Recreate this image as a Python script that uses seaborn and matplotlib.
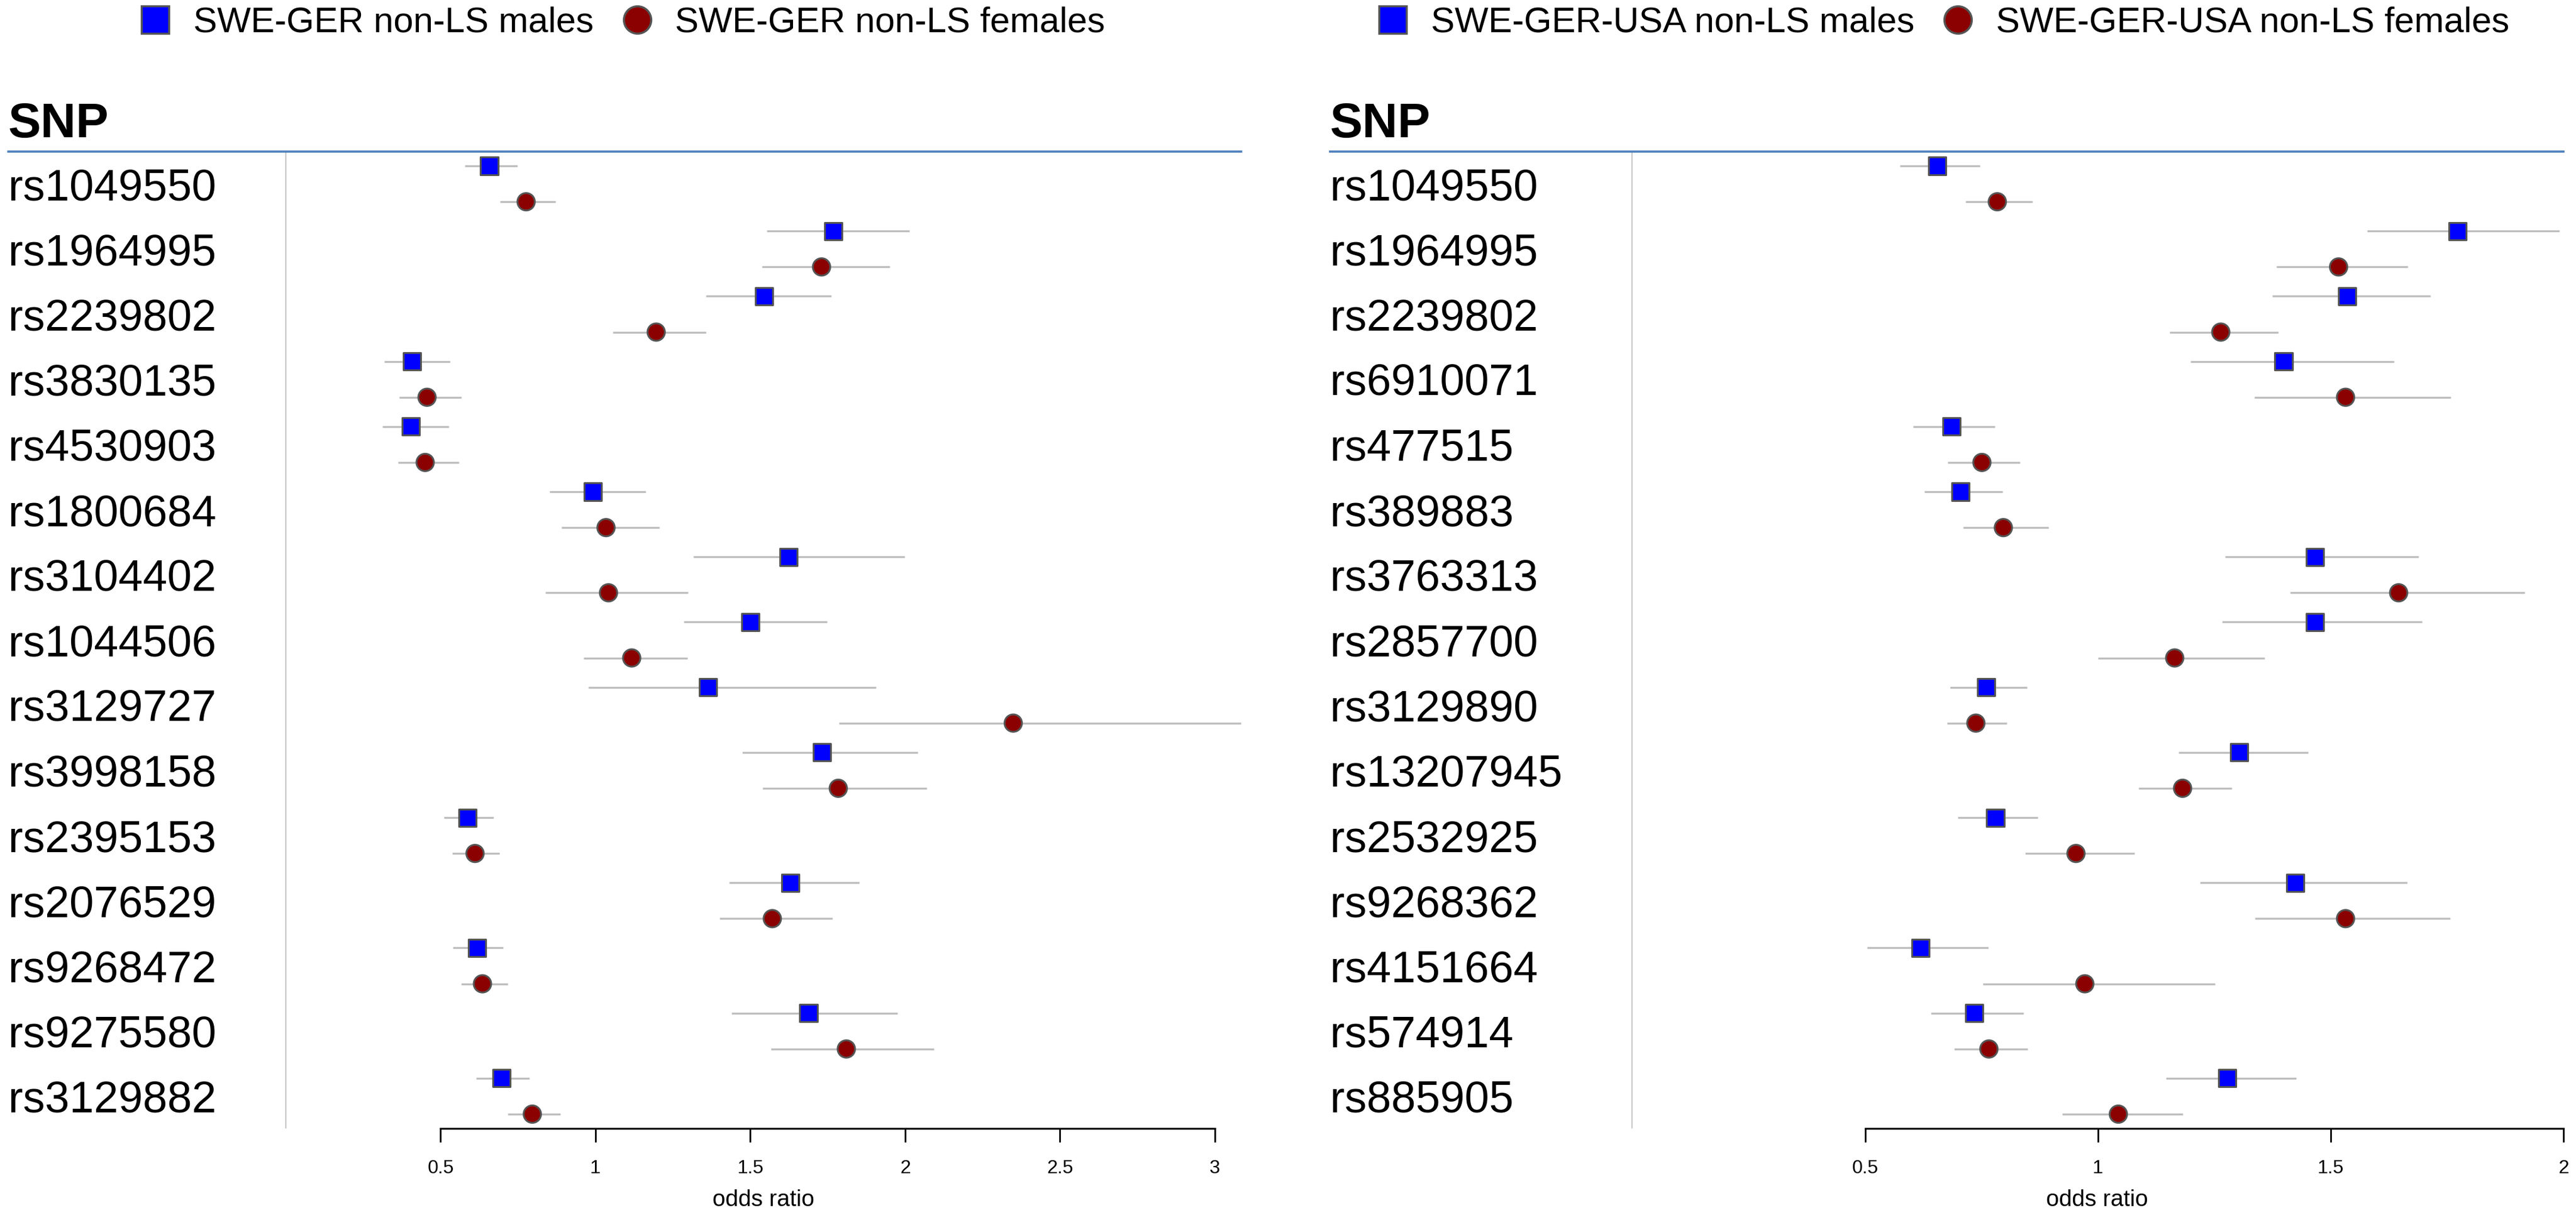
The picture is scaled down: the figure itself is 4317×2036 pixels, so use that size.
import numpy as np
import pandas as pd
import matplotlib
matplotlib.use("Agg")
import matplotlib.pyplot as plt
import seaborn as sns
from matplotlib.lines import Line2D
from matplotlib.transforms import blended_transform_factory

# ---------------- data ----------------
snps_left = ['rs1049550', 'rs1964995', 'rs2239802', 'rs3830135', 'rs4530903',
             'rs1800684', 'rs3104402', 'rs1044506', 'rs3129727', 'rs3998158',
             'rs2395153', 'rs2076529', 'rs9268472', 'rs9275580', 'rs3129882']
left_male_or = [0.657, 1.768, 1.544, 0.407, 0.403, 0.992, 1.623, 1.500, 1.363, 1.732, 0.587, 1.629, 0.617, 1.688, 0.696]
left_male_lo = [0.579, 1.554, 1.357, 0.317, 0.312, 0.851, 1.317, 1.286, 0.976, 1.474, 0.510, 1.431, 0.540, 1.440, 0.615]
left_male_hi = [0.748, 2.014, 1.762, 0.530, 0.526, 1.161, 1.998, 1.748, 1.905, 2.040, 0.671, 1.851, 0.702, 1.976, 0.786]
left_female_or = [0.776, 1.730, 1.196, 0.456, 0.450, 1.034, 1.042, 1.117, 2.349, 1.784, 0.611, 1.571, 0.635, 1.810, 0.796]
left_female_lo = [0.692, 1.538, 1.056, 0.367, 0.363, 0.891, 0.839, 0.962, 1.786, 1.540, 0.538, 1.401, 0.567, 1.567, 0.716]
left_female_hi = [0.871, 1.950, 1.357, 0.567, 0.558, 1.206, 1.298, 1.296, 3.090, 2.069, 0.690, 1.766, 0.716, 2.093, 0.887]

snps_right = ['rs1049550', 'rs1964995', 'rs2239802', 'rs6910071', 'rs477515',
              'rs389883', 'rs3763313', 'rs2857700', 'rs3129890', 'rs13207945',
              'rs2532925', 'rs9268362', 'rs4151664', 'rs574914', 'rs885905']
right_male_or = [0.655, 1.773, 1.535, 1.399, 0.686, 0.705, 1.466, 1.466, 0.760, 1.304, 0.780, 1.424, 0.619, 0.735, 1.278]
right_male_lo = [0.575, 1.579, 1.375, 1.199, 0.603, 0.627, 1.273, 1.267, 0.682, 1.174, 0.699, 1.220, 0.505, 0.642, 1.146]
right_male_hi = [0.747, 1.991, 1.714, 1.636, 0.779, 0.795, 1.689, 1.696, 0.848, 1.451, 0.871, 1.664, 0.764, 0.840, 1.426]
right_female_or = [0.784, 1.517, 1.264, 1.532, 0.751, 0.797, 1.646, 1.165, 0.738, 1.182, 0.953, 1.532, 0.972, 0.766, 1.044]
right_female_lo = [0.716, 1.384, 1.154, 1.336, 0.677, 0.711, 1.413, 1.000, 0.676, 1.088, 0.844, 1.337, 0.753, 0.691, 0.924]
right_female_hi = [0.860, 1.665, 1.388, 1.758, 0.832, 0.894, 1.917, 1.358, 0.804, 1.287, 1.078, 1.757, 1.251, 0.849, 1.182]

left_ticks = [0.5, 1, 1.5, 2, 2.5, 3]
left_tick_labels = ['0.5', '1', '1.5', '2', '2.5', '3']
right_ticks = [0.5, 1, 1.5, 2]
right_tick_labels = ['0.5', '1', '1.5', '2']

left_legend = ['SWE-GER non-LS males', 'SWE-GER non-LS females']
right_legend = ['SWE-GER-USA non-LS males', 'SWE-GER-USA non-LS females']
x_label = 'odds ratio'
header = 'SNP'

# ---------------- style ----------------
sns.set_theme(style="white")
plt.rcParams['font.family'] = ['Liberation Sans', 'DejaVu Sans']
plt.rcParams['text.color'] = 'black'
plt.rcParams['xtick.color'] = 'black'
plt.rcParams['axes.labelcolor'] = 'black'

W, H = 4317, 2036
DPI = 100
fig = plt.figure(figsize=(W / DPI, H / DPI), dpi=DPI)

MALE_C = '#0000ff'
FEMALE_C = '#8b0000'
EDGE_C = '#555555'
CI_C = '#bebebe'
TOP_C = '#4f81bd'
OFF = 0.275
LEG_FS = 43


def panel(rect, snps, m, mlo, mhi, f, flo, fhi, xlim, ticks, ticklabels, leg_labels, leg_x):
    ax = fig.add_axes(rect)
    n = len(snps)
    rows = np.arange(n)
    df = pd.DataFrame({
        'snp': list(snps) * 2,
        'y': np.concatenate([rows - OFF, rows + OFF]),
        'or': list(m) + list(f),
        'lo': list(mlo) + list(flo),
        'hi': list(mhi) + list(fhi),
        'sex': ['males'] * n + ['females'] * n,
    })
    ax.hlines(df['y'], df['lo'], df['hi'], color=CI_C, lw=2.4, zorder=2)
    sns.scatterplot(data=df, x='or', y='y', hue='sex', style='sex',
                    markers={'males': 's', 'females': 'o'},
                    palette={'males': MALE_C, 'females': FEMALE_C},
                    s=440, edgecolor=EDGE_C, linewidth=2.2, legend=False,
                    ax=ax, zorder=3)
    ax.axvline(0, color='#c8c8c8', lw=1.5, zorder=1)
    ax.set_xlim(*xlim)
    ax.set_ylim(n - 0.505, -0.495)
    ax.set_yticks([])
    ax.set_xticks(ticks)
    ax.set_xticklabels(ticklabels, fontsize=23, color='black')
    ax.tick_params(axis='x', direction='out', length=16.5, width=2,
                   pad=21, colors='black', bottom=True)
    ax.set_xlabel('')
    ax.set_ylabel('')
    for s in ['left', 'right']:
        ax.spines[s].set_visible(False)
    ax.spines['top'].set_color(TOP_C)
    ax.spines['top'].set_linewidth(2.6)
    ax.spines['bottom'].set_color('black')
    ax.spines['bottom'].set_linewidth(2.2)
    ax.spines['bottom'].set_bounds(ticks[0], ticks[-1])
    ax.set_facecolor('white')
    for i, s in enumerate(snps):
        ax.text(xlim[0], i + 0.247, s, fontsize=53, ha='left', va='baseline',
                color='black', clip_on=False)
    ax.text(xlim[0], -0.714, header, fontsize=59, fontweight='bold',
            ha='left', va='baseline', color='black', clip_on=False)
    tr = blended_transform_factory(ax.transData, ax.transAxes)
    ax.text(xlim[1] / 2, -0.0733, x_label, fontsize=28, ha='center',
            va='center', transform=tr, color='black', clip_on=False)
    handles = [
        Line2D([], [], ls='', marker='s', markersize=33, markerfacecolor=MALE_C,
               markeredgecolor=EDGE_C, markeredgewidth=2.5),
        Line2D([], [], ls='', marker='o', markersize=33, markerfacecolor=FEMALE_C,
               markeredgecolor=EDGE_C, markeredgewidth=2.5),
    ]
    leg = fig.legend(handles, leg_labels, loc='center left',
                     bbox_to_anchor=(leg_x / W, 1 - 38 / H), ncol=2, frameon=False,
                     fontsize=LEG_FS, handlelength=1.0, handletextpad=0.57,
                     columnspacing=0.72, borderpad=0, borderaxespad=0)
    for t in leg.get_texts():
        t.set_color('black')
    return ax


bottom = 1 - 1891 / H
height = (1891 - 254) / H

panel([14 / W, bottom, (2080 - 14) / W, height], snps_left,
      left_male_or, left_male_lo, left_male_hi,
      left_female_or, left_female_lo, left_female_hi,
      (-0.896, 3.085), left_ticks, left_tick_labels, left_legend, 230)

panel([2229 / W, bottom, (4296 - 2229) / W, height], snps_right,
      right_male_or, right_male_lo, right_male_hi,
      right_female_or, right_female_lo, right_female_hi,
      (-0.649, 1.997), right_ticks, right_tick_labels, right_legend, 2304)

fig.savefig('out.png', dpi=DPI, facecolor='white')
